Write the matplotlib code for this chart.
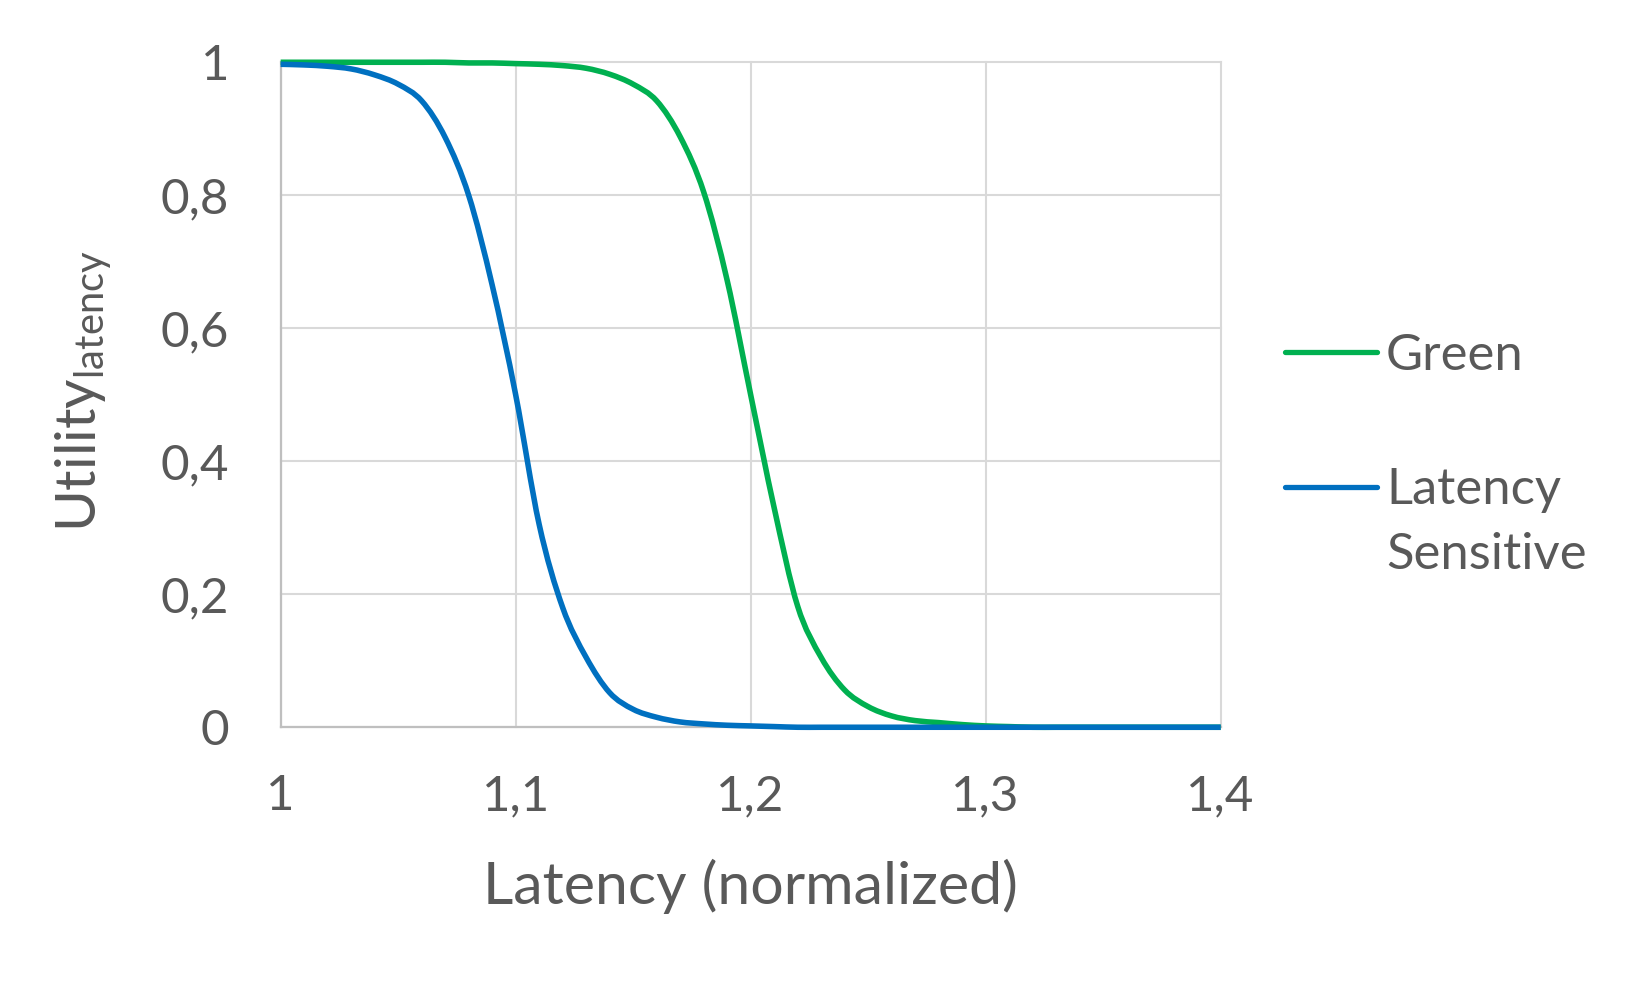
import numpy as np
import matplotlib
matplotlib.use("Agg")
import matplotlib.pyplot as plt
from matplotlib.path import Path
from matplotlib.patches import PathPatch
from matplotlib.lines import Line2D

plt.rcParams['font.family'] = ['Lato', 'DejaVu Sans']
plt.rcParams['mathtext.fontset'] = 'custom'
plt.rcParams['mathtext.rm'] = 'Lato'
plt.rcParams['mathtext.it'] = 'Lato'

# values
latency = [1.00, 1.01, 1.02, 1.03, 1.04, 1.05, 1.06, 1.07, 1.08, 1.09,
           1.10, 1.11, 1.12, 1.13, 1.14, 1.15, 1.16, 1.17, 1.18, 1.19,
           1.20, 1.21, 1.22, 1.23, 1.24, 1.25, 1.26, 1.27, 1.28, 1.29,
           1.30, 1.31, 1.32, 1.33, 1.34, 1.35, 1.36, 1.37, 1.38, 1.39, 1.40]
green = [1.000, 1.000, 1.000, 1.000, 1.000, 1.000, 1.000, 1.000, 0.999, 0.999,
         0.998, 0.997, 0.995, 0.991, 0.982, 0.967, 0.942, 0.888, 0.805, 0.672,
         0.500, 0.330, 0.182, 0.105, 0.056, 0.031, 0.017, 0.010, 0.007, 0.004,
         0.002, 0.001, 0.000, 0.000, 0.000, 0.000, 0.000, 0.000, 0.000, 0.000, 0.000]
latency_sensitive = [0.997, 0.996, 0.994, 0.990, 0.981, 0.967, 0.942, 0.887, 0.800, 0.665,
                     0.500, 0.305, 0.180, 0.105, 0.052, 0.027, 0.015, 0.008, 0.005, 0.003,
                     0.002, 0.001, 0.000, 0.000, 0.000, 0.000, 0.000, 0.000, 0.000, 0.000,
                     0.000, 0.000, 0.000, 0.000, 0.000, 0.000, 0.000, 0.000, 0.000, 0.000, 0.000]
series_names = ['Green', 'Latency\nSensitive']
series_colors = ['#00B050', '#0070C0']

x_ticks = [1.0, 1.1, 1.2, 1.3, 1.4]
x_ticklabels = ['1', '1,1', '1,2', '1,3', '1,4']
y_ticks = [0, 0.2, 0.4, 0.6, 0.8, 1.0]
y_ticklabels = ['0', '0,2', '0,4', '0,6', '0,8', '1']

TXT = '#595959'


def smooth_path(xs, ys):
    # excel-like smoothed line: catmull-rom segments turned into cubic beziers
    p = np.column_stack([xs, ys])
    n = len(p)
    verts = [p[0]]
    codes = [Path.MOVETO]
    for i in range(n - 1):
        p0 = p[i - 1] if i > 0 else p[i]
        p3 = p[i + 2] if i + 2 < n else p[i + 1]
        c1 = p[i] + (p[i + 1] - p0) / 6.0
        c2 = p[i + 1] - (p3 - p[i]) / 6.0
        verts += [c1, c2, p[i + 1]]
        codes += [Path.CURVE4] * 3
    return Path(verts, codes)


fig = plt.figure(figsize=(16.5, 9.9), dpi=100)
ax = fig.add_axes([0.1701, 0.2654, 0.5697, 0.6717])

for ys, col in zip([green, latency_sensitive], series_colors):
    ax.add_patch(PathPatch(smooth_path(latency, ys), fill=False, edgecolor=col,
                           lw=4.0, capstyle='butt', joinstyle='round', clip_on=False, zorder=3))

ax.set_xlim(1.0, 1.4)
ax.set_ylim(0, 1.0)
ax.set_xticks(x_ticks)
ax.set_xticklabels(x_ticklabels)
ax.set_yticks(y_ticks)
ax.set_yticklabels(y_ticklabels)
ax.tick_params(axis='both', length=0, labelsize=35.5, colors=TXT)
ax.tick_params(axis='y', pad=37)
ax.tick_params(axis='x', pad=34)

ax.grid(True, color='#D9D9D9', lw=1.5)
for gl in ax.get_xgridlines() + ax.get_ygridlines():
    gl.set_clip_on(False)
ax.set_axisbelow(True)
for s in ['top', 'right']:
    ax.spines[s].set_visible(False)
for s in ['left', 'bottom']:
    ax.spines[s].set_color('#BFBFBF')
    ax.spines[s].set_linewidth(1.6)

fig.text(0.455, 1 - 904 / 990, 'Latency (normalized)', fontsize=42.5, color=TXT,
         ha='center', va='baseline')
fig.text(96 / 1650, 1 - 391 / 990, r'Utility$_{\mathrm{latency}}$', fontsize=41, color=TXT,
         rotation=90, rotation_mode='anchor', ha='center', va='baseline')

# legend drawn by hand so the blue key sits on the first text line
leg_y = [1 - 352.3 / 990, 1 - 486.7 / 990]
for yy, col, name in zip(leg_y, series_colors, series_names):
    fig.add_artist(Line2D([1285 / 1650, 1377 / 1650], [yy, yy], color=col, lw=3.8,
                          solid_capstyle='round', transform=fig.transFigure))
    first, *rest = name.split('\n')
    fig.text(1386 / 1650, yy - 17.5 / 990, first, fontsize=36.5, color=TXT, va='baseline')
    for k, line in enumerate(rest):
        fig.text(1386 / 1650, yy - (17.5 + 65 * (k + 1)) / 990, line, fontsize=36.5,
                 color=TXT, va='baseline')

fig.savefig('out.png', dpi=100)
